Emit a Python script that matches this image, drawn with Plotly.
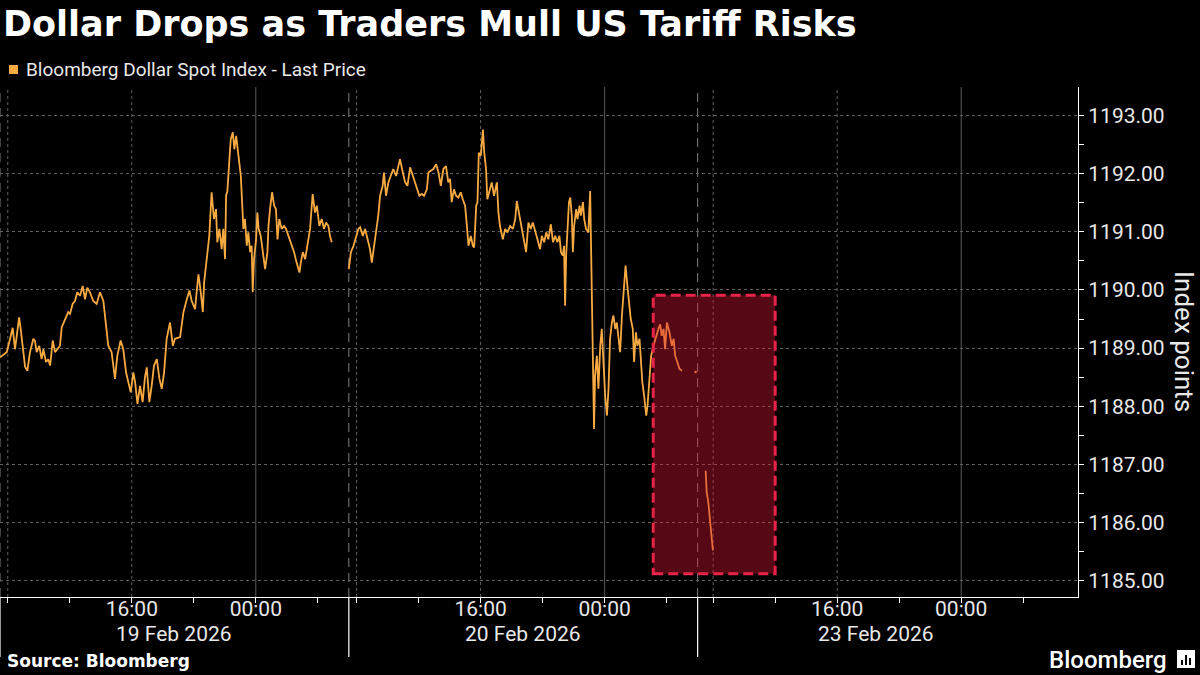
import pandas as pd
import plotly.graph_objects as go

# ---------------- layout constants ----------------
W, H = 1200, 675
ML, MR, MT, MB = 0, 122, 87, 78
PW = W - ML - MR
PH = H - MT - MB


def px(x):
    return (x - ML) / PW


def py(y):
    return (H - MB - y) / PH


# ---------------- text ----------------
TITLE = "Dollar Drops as Traders Mull US Tariff Risks"
SERIES_NAME = "Bloomberg Dollar Spot Index - Last Price"
Y_TITLE = "Index points"
SOURCE = "Source: Bloomberg"
BRAND = "Bloomberg"

# ---------------- data ----------------
# Session 19 Feb 2026 (07:30 -> 06:00 next day)
s1_time = [
    "2026-02-19 07:30", "2026-02-19 07:56", "2026-02-19 08:09", "2026-02-19 08:19", "2026-02-19 08:28",
    "2026-02-19 08:35", "2026-02-19 08:44", "2026-02-19 08:50", "2026-02-19 09:00", "2026-02-19 09:07",
    "2026-02-19 09:16", "2026-02-19 09:26", "2026-02-19 09:39", "2026-02-19 09:45", "2026-02-19 09:52",
    "2026-02-19 10:02", "2026-02-19 10:11", "2026-02-19 10:18", "2026-02-19 10:28", "2026-02-19 10:37",
    "2026-02-19 10:44", "2026-02-19 10:54", "2026-02-19 11:03", "2026-02-19 11:12", "2026-02-19 11:22",
    "2026-02-19 11:29", "2026-02-19 11:42", "2026-02-19 11:54", "2026-02-19 12:01", "2026-02-19 12:11",
    "2026-02-19 12:20", "2026-02-19 12:29", "2026-02-19 12:40", "2026-02-19 12:50", "2026-02-19 12:59",
    "2026-02-19 13:08", "2026-02-19 13:18", "2026-02-19 13:31", "2026-02-19 13:44", "2026-02-19 13:57",
    "2026-02-19 14:10", "2026-02-19 14:20", "2026-02-19 14:29", "2026-02-19 14:42", "2026-02-19 14:55",
    "2026-02-19 15:04", "2026-02-19 15:17", "2026-02-19 15:27", "2026-02-19 15:38", "2026-02-19 15:47",
    "2026-02-19 15:56", "2026-02-19 16:06", "2026-02-19 16:13", "2026-02-19 16:22", "2026-02-19 16:32",
    "2026-02-19 16:42", "2026-02-19 16:51", "2026-02-19 16:58", "2026-02-19 17:08", "2026-02-19 17:17",
    "2026-02-19 17:26", "2026-02-19 17:37", "2026-02-19 17:47", "2026-02-19 17:56", "2026-02-19 18:05",
    "2026-02-19 18:15", "2026-02-19 18:28", "2026-02-19 18:39", "2026-02-19 18:47", "2026-02-19 19:07",
    "2026-02-19 19:20", "2026-02-19 19:33", "2026-02-19 19:43", "2026-02-19 19:52", "2026-02-19 20:05",
    "2026-02-19 20:11", "2026-02-19 20:18", "2026-02-19 20:27", "2026-02-19 20:35", "2026-02-19 20:40",
    "2026-02-19 20:50", "2026-02-19 21:00", "2026-02-19 21:09", "2026-02-19 21:18", "2026-02-19 21:26",
    "2026-02-19 21:31", "2026-02-19 21:39", "2026-02-19 21:48", "2026-02-19 21:54", "2026-02-19 22:01",
    "2026-02-19 22:05", "2026-02-19 22:10", "2026-02-19 22:18", "2026-02-19 22:23", "2026-02-19 22:31",
    "2026-02-19 22:37", "2026-02-19 22:44", "2026-02-19 22:50", "2026-02-19 22:56", "2026-02-19 23:02",
    "2026-02-19 23:06", "2026-02-19 23:12", "2026-02-19 23:18", "2026-02-19 23:25", "2026-02-19 23:31",
    "2026-02-19 23:38", "2026-02-19 23:44", "2026-02-19 23:48", "2026-02-19 23:53", "2026-02-20 00:01",
    "2026-02-20 00:06", "2026-02-20 00:11", "2026-02-20 00:19", "2026-02-20 00:27", "2026-02-20 00:36",
    "2026-02-20 00:45", "2026-02-20 00:49", "2026-02-20 00:55", "2026-02-20 01:03", "2026-02-20 01:11",
    "2026-02-20 01:18", "2026-02-20 01:24", "2026-02-20 01:31", "2026-02-20 01:40", "2026-02-20 01:49",
    "2026-02-20 01:57", "2026-02-20 02:06", "2026-02-20 02:13", "2026-02-20 02:19", "2026-02-20 02:28",
    "2026-02-20 02:38", "2026-02-20 02:49", "2026-02-20 02:54", "2026-02-20 03:02", "2026-02-20 03:11",
    "2026-02-20 03:20", "2026-02-20 03:30", "2026-02-20 03:40", "2026-02-20 03:49", "2026-02-20 03:56",
    "2026-02-20 04:06", "2026-02-20 04:15", "2026-02-20 04:24", "2026-02-20 04:32", "2026-02-20 04:41",
    "2026-02-20 04:47", "2026-02-20 04:54",
]
s1_value = [
    1188.84, 1188.93, 1189.16, 1189.35, 1188.98,
    1189.27, 1189.53, 1189.33, 1188.98, 1188.68,
    1188.61, 1188.93, 1189.16, 1189.13, 1188.93,
    1189.04, 1188.81, 1188.98, 1188.76, 1188.81,
    1188.70, 1189.13, 1188.93, 1188.98, 1189.04,
    1189.36, 1189.50, 1189.62, 1189.59, 1189.76,
    1189.81, 1189.96, 1189.90, 1190.07, 1189.84,
    1190.04, 1189.96, 1189.81, 1189.76, 1189.96,
    1189.81, 1189.39, 1189.04, 1188.93, 1188.47,
    1188.87, 1189.13, 1188.98, 1188.58, 1188.41,
    1188.24, 1188.58, 1188.41, 1188.04, 1188.35,
    1188.07, 1188.50, 1188.67, 1188.07, 1188.35,
    1188.70, 1188.81, 1188.47, 1188.30, 1188.58,
    1189.16, 1189.44, 1189.04, 1189.16, 1189.19,
    1189.62, 1189.84, 1189.99, 1189.81, 1189.67,
    1189.96, 1190.27, 1189.96, 1189.62, 1190.13,
    1190.50, 1190.93, 1191.68, 1191.22, 1191.39,
    1190.82, 1191.05, 1190.70, 1191.05, 1190.53,
    1191.62, 1191.70, 1192.25, 1192.59, 1192.71,
    1192.42, 1192.65, 1192.36, 1192.19, 1191.96,
    1191.45, 1191.05, 1191.22, 1190.76, 1190.99,
    1190.65, 1190.76, 1189.96, 1190.53, 1190.87,
    1191.33, 1191.05, 1190.93, 1190.65, 1190.36,
    1190.65, 1191.10, 1191.39, 1191.68, 1191.45,
    1191.39, 1190.87, 1191.22, 1191.05, 1191.10,
    1191.05, 1190.93, 1190.82, 1190.76, 1190.65,
    1190.47, 1190.30, 1190.47, 1190.65, 1190.53,
    1190.76, 1191.05, 1191.65, 1191.33, 1191.45,
    1191.10, 1191.22, 1191.05, 1191.16, 1191.10,
    1190.93, 1190.82,
]

# Session 20 Feb 2026 (07:30 -> 06:00 next day)
s2_time = [
    "2026-02-20 07:30", "2026-02-20 07:38", "2026-02-20 07:48", "2026-02-20 07:58", "2026-02-20 08:07",
    "2026-02-20 08:14", "2026-02-20 08:24", "2026-02-20 08:33", "2026-02-20 08:42", "2026-02-20 08:52",
    "2026-02-20 08:59", "2026-02-20 09:08", "2026-02-20 09:15", "2026-02-20 09:24", "2026-02-20 09:31",
    "2026-02-20 09:41", "2026-02-20 09:46", "2026-02-20 09:54", "2026-02-20 10:03", "2026-02-20 10:12",
    "2026-02-20 10:22", "2026-02-20 10:33", "2026-02-20 10:42", "2026-02-20 10:48", "2026-02-20 10:59",
    "2026-02-20 11:08", "2026-02-20 11:17", "2026-02-20 11:27", "2026-02-20 11:38", "2026-02-20 11:46",
    "2026-02-20 11:55", "2026-02-20 12:03", "2026-02-20 12:12", "2026-02-20 12:21", "2026-02-20 12:32",
    "2026-02-20 12:38", "2026-02-20 12:47", "2026-02-20 12:57", "2026-02-20 13:08", "2026-02-20 13:17",
    "2026-02-20 13:26", "2026-02-20 13:36", "2026-02-20 13:46", "2026-02-20 13:55", "2026-02-20 14:02",
    "2026-02-20 14:08", "2026-02-20 14:17", "2026-02-20 14:25", "2026-02-20 14:34", "2026-02-20 14:43",
    "2026-02-20 14:51", "2026-02-20 15:00", "2026-02-20 15:07", "2026-02-20 15:13", "2026-02-20 15:22",
    "2026-02-20 15:30", "2026-02-20 15:35", "2026-02-20 15:43", "2026-02-20 15:48", "2026-02-20 15:53",
    "2026-02-20 16:01", "2026-02-20 16:09", "2026-02-20 16:14", "2026-02-20 16:21", "2026-02-20 16:26",
    "2026-02-20 16:34", "2026-02-20 16:43", "2026-02-20 16:52", "2026-02-20 17:03", "2026-02-20 17:09",
    "2026-02-20 17:15", "2026-02-20 17:26", "2026-02-20 17:35", "2026-02-20 17:44", "2026-02-20 17:54",
    "2026-02-20 18:05", "2026-02-20 18:14", "2026-02-20 18:20", "2026-02-20 18:30", "2026-02-20 18:39",
    "2026-02-20 18:46", "2026-02-20 18:56", "2026-02-20 19:05", "2026-02-20 19:14", "2026-02-20 19:22",
    "2026-02-20 19:31", "2026-02-20 19:40", "2026-02-20 19:50", "2026-02-20 19:57", "2026-02-20 20:06",
    "2026-02-20 20:14", "2026-02-20 20:22", "2026-02-20 20:32", "2026-02-20 20:40", "2026-02-20 20:49",
    "2026-02-20 20:57", "2026-02-20 21:05", "2026-02-20 21:11", "2026-02-20 21:18", "2026-02-20 21:23",
    "2026-02-20 21:27", "2026-02-20 21:31", "2026-02-20 21:37", "2026-02-20 21:42", "2026-02-20 21:47",
    "2026-02-20 21:53", "2026-02-20 21:57", "2026-02-20 22:02", "2026-02-20 22:10", "2026-02-20 22:15",
    "2026-02-20 22:23", "2026-02-20 22:28", "2026-02-20 22:36", "2026-02-20 22:41", "2026-02-20 22:48",
    "2026-02-20 22:57", "2026-02-20 23:04", "2026-02-20 23:07", "2026-02-20 23:10", "2026-02-20 23:14",
    "2026-02-20 23:17", "2026-02-20 23:19", "2026-02-20 23:23", "2026-02-20 23:30", "2026-02-20 23:36",
    "2026-02-20 23:43", "2026-02-20 23:49", "2026-02-20 23:56", "2026-02-21 00:02", "2026-02-21 00:09",
    "2026-02-21 00:15", "2026-02-21 00:21", "2026-02-21 00:28", "2026-02-21 00:34", "2026-02-21 00:41",
    "2026-02-21 00:47", "2026-02-21 00:53", "2026-02-21 01:00", "2026-02-21 01:07", "2026-02-21 01:13",
    "2026-02-21 01:21", "2026-02-21 01:28", "2026-02-21 01:36", "2026-02-21 01:41", "2026-02-21 01:49",
    "2026-02-21 01:54", "2026-02-21 02:01", "2026-02-21 02:07", "2026-02-21 02:15", "2026-02-21 02:20",
    "2026-02-21 02:26", "2026-02-21 02:33", "2026-02-21 02:41", "2026-02-21 02:46", "2026-02-21 02:53",
    "2026-02-21 03:00", "2026-02-21 03:09", "2026-02-21 03:19", "2026-02-21 03:28", "2026-02-21 03:35",
    "2026-02-21 03:41", "2026-02-21 03:48", "2026-02-21 03:54", "2026-02-21 04:01", "2026-02-21 04:11",
    "2026-02-21 04:20", "2026-02-21 04:27", "2026-02-21 04:33", "2026-02-21 04:40", "2026-02-21 04:50",
    "2026-02-21 04:59",
]
s2_value = [
    1190.36, 1190.65, 1190.76, 1190.93, 1191.05,
    1191.08, 1190.93, 1191.05, 1190.87, 1190.70,
    1190.47, 1190.76, 1190.96, 1191.28, 1191.62,
    1191.79, 1192.02, 1191.62, 1191.85, 1191.96,
    1192.08, 1191.96, 1192.13, 1192.25, 1192.02,
    1191.85, 1191.79, 1192.11, 1191.96, 1191.85,
    1191.73, 1191.62, 1191.65, 1191.62, 1191.73,
    1192.02, 1192.05, 1192.08, 1192.16, 1192.02,
    1191.79, 1192.08, 1192.13, 1191.85, 1191.91,
    1191.51, 1191.73, 1191.62, 1191.59, 1191.68,
    1191.56, 1191.45, 1191.10, 1190.76, 1190.93,
    1190.76, 1190.73, 1191.45, 1191.51, 1192.36,
    1192.31, 1192.76, 1192.36, 1192.08, 1191.56,
    1191.68, 1191.85, 1191.62, 1191.85, 1191.33,
    1191.10, 1190.87, 1191.05, 1190.99, 1191.10,
    1191.05, 1191.22, 1191.53, 1191.28, 1191.05,
    1190.87, 1190.65, 1191.16, 1191.05, 1191.16,
    1190.99, 1190.87, 1190.70, 1190.93, 1190.82,
    1190.99, 1190.87, 1191.13, 1190.82, 1190.93,
    1190.82, 1190.93, 1190.65, 1190.59, 1190.76,
    1189.73, 1190.59, 1191.16, 1191.51, 1191.59,
    1191.28, 1190.65, 1191.10, 1191.39, 1191.22,
    1191.45, 1191.28, 1191.51, 1191.22, 1191.05,
    1190.99, 1191.70, 1190.87, 1190.02, 1189.16,
    1188.01, 1187.61, 1188.53, 1188.87, 1188.30,
    1189.04, 1189.33, 1188.58, 1188.18, 1187.84,
    1188.30, 1189.16, 1189.44, 1189.56, 1189.33,
    1189.44, 1189.16, 1188.93, 1189.56, 1190.02,
    1190.42, 1190.07, 1189.73, 1189.50, 1189.33,
    1188.76, 1189.27, 1189.04, 1189.16, 1188.87,
    1188.41, 1188.18, 1187.84, 1188.01, 1188.53,
    1188.87, 1189.04, 1189.21, 1189.33, 1189.41,
    1189.21, 1189.33, 1188.98, 1189.44, 1189.27,
    1189.04, 1189.16, 1188.87, 1188.76, 1188.64,
    1188.61,
]

# isolated late print before the weekend close
s2_last_time = ["2026-02-21 05:52"]
s2_last_value = [1188.59]

# Session 23 Feb 2026 (opening minutes)
s3_time = ["2026-02-23 07:31", "2026-02-23 07:35", "2026-02-23 07:41",
           "2026-02-23 07:48", "2026-02-23 07:53", "2026-02-23 07:59"]
s3_value = [1186.89, 1186.52, 1186.36, 1186.01, 1185.72, 1185.52]

# trading sessions: (label, start, end)
sessions = [
    ("19 Feb 2026", "2026-02-19 07:30", "2026-02-20 06:00"),
    ("20 Feb 2026", "2026-02-20 07:30", "2026-02-21 06:00"),
    ("23 Feb 2026", "2026-02-23 07:00", "2026-02-24 06:00"),
]
x_range = ["2026-02-19 07:30", "2026-02-24 07:32"]

tick_times = [
    "2026-02-19 08:00", "2026-02-19 12:00", "2026-02-19 16:00", "2026-02-19 20:00",
    "2026-02-20 00:00", "2026-02-20 04:00",
    "2026-02-20 08:00", "2026-02-20 12:00", "2026-02-20 16:00", "2026-02-20 20:00",
    "2026-02-21 00:00", "2026-02-21 04:00",
    "2026-02-23 08:00", "2026-02-23 12:00", "2026-02-23 16:00", "2026-02-23 20:00",
    "2026-02-24 00:00", "2026-02-24 04:00",
]
labelled_hours = {16: "16:00", 0: "00:00"}

y_range = [1184.72, 1193.49]
y_ticks = [1185, 1186, 1187, 1188, 1189, 1190, 1191, 1192, 1193]

# highlight box (time span and index level span)
box_x = ["2026-02-21 03:08", "2026-02-23 12:00"]
box_y = [1185.12, 1189.91]

# ---------------- styles ----------------
LINE_COLOR = "#F7AA42"
TEXT_COLOR = "#E8E8E8"
GRID_COLOR = "#606060"
AXIS_FONT = "Roboto, 'Noto Sans', sans-serif"
BOLD_FONT = "'DejaVu Sans', sans-serif"

# ---------------- figure ----------------
fig = go.Figure()
for t, v in [(s1_time, s1_value), (s2_time, s2_value), (s3_time, s3_value)]:
    fig.add_trace(go.Scatter(
        x=pd.to_datetime(t), y=v, mode="lines",
        line=dict(color=LINE_COLOR, width=1.8),
        name=SERIES_NAME, showlegend=False, hoverinfo="x+y",
    ))
fig.add_trace(go.Scatter(
    x=pd.to_datetime(s2_last_time), y=s2_last_value, mode="markers",
    marker=dict(color=LINE_COLOR, size=2.5), showlegend=False, name=SERIES_NAME,
))

tick_dt = pd.to_datetime(tick_times)
tick_text = [labelled_hours.get(t.hour, "") for t in tick_dt]

shapes = []
# vertical gridlines
for t in tick_dt:
    if t.hour == 0:
        shapes.append(dict(type="line", xref="x", yref="paper", x0=t, x1=t, y0=0, y1=1,
                           line=dict(color="#5a5a5a", width=1), layer="below"))
    elif t.hour in (8, 16):
        shapes.append(dict(type="line", xref="x", yref="paper", x0=t, x1=t, y0=0, y1=1,
                           line=dict(color=GRID_COLOR, width=1, dash="3px,3px"), layer="below"))
# session separators
annotations = []
for label, start, end in sessions:
    s = pd.Timestamp(start)
    e = pd.Timestamp(end)
    shapes.append(dict(type="line", xref="x", yref="paper", x0=s, x1=s, y0=0, y1=1,
                       line=dict(color="#808080", width=1, dash="9px,6px"), layer="below"))
    shapes.append(dict(type="line", xref="x", yref="paper", x0=s, x1=s, y0=0, y1=py(657),
                       line=dict(color="#FFFFFF", width=1.2), layer="above"))
    annotations.append(dict(text=label, xref="x", yref="paper", x=s + (e - s) / 2, y=py(634),
                            xanchor="center", yanchor="middle", showarrow=False,
                            font=dict(family=AXIS_FONT, size=21, color=TEXT_COLOR)))

# highlight box
shapes.append(dict(type="rect", xref="x", yref="y",
                   x0=pd.Timestamp(box_x[0]), x1=pd.Timestamp(box_x[1]),
                   y0=box_y[0], y1=box_y[1],
                   fillcolor="rgba(215,20,50,0.40)",
                   line=dict(color="#E8234A", width=3, dash="10px,5px"), layer="above"))

# legend swatch
shapes.append(dict(type="rect", xref="paper", yref="paper",
                   x0=px(9), x1=px(18), y0=py(74), y1=py(65),
                   fillcolor=LINE_COLOR, line=dict(width=0)))
annotations.append(dict(text=SERIES_NAME, xref="paper", yref="paper", x=px(24), y=py(70),
                        xanchor="left", yanchor="middle", showarrow=False,
                        font=dict(family=AXIS_FONT, size=19, color=TEXT_COLOR)))

# y-axis title (reads top to bottom)
annotations.append(dict(text=Y_TITLE, xref="paper", yref="paper", x=px(1184), y=py(341),
                        xanchor="center", yanchor="middle", textangle=90, showarrow=False,
                        font=dict(family=AXIS_FONT, size=26, color=TEXT_COLOR)))

# source and brand
annotations.append(dict(text=SOURCE, xref="paper", yref="paper", x=px(5), y=py(661),
                        xanchor="left", yanchor="middle", showarrow=False,
                        font=dict(family=BOLD_FONT, size=17, color="#FFFFFF", weight="bold")))
annotations.append(dict(text=BRAND, xref="paper", yref="paper", x=px(1169), y=py(660),
                        xanchor="right", yanchor="middle", showarrow=False,
                        font=dict(family=AXIS_FONT, size=24, color="#FFFFFF", weight=500)))
# brand icon
shapes.append(dict(type="rect", xref="paper", yref="paper",
                   x0=px(1177), x1=px(1195), y0=py(668), y1=py(650),
                   fillcolor="#FFFFFF", line=dict(width=0)))
for x0, top in [(1181, 660), (1185, 655), (1189, 658)]:
    shapes.append(dict(type="rect", xref="paper", yref="paper",
                       x0=px(x0), x1=px(x0 + 2), y0=py(665), y1=py(top),
                       fillcolor="#000000", line=dict(width=0)))

fig.update_layout(
    width=W, height=H,
    margin=dict(l=ML, r=MR, t=MT, b=MB, pad=0),
    paper_bgcolor="#000000", plot_bgcolor="#000000",
    title=dict(text=TITLE, x=3 / W, xref="container", xanchor="left",
               y=1 - 24 / H, yref="container", yanchor="middle",
               font=dict(family=BOLD_FONT, size=35, color="#FFFFFF", weight="bold")),
    showlegend=False,
    shapes=shapes,
    annotations=annotations,
    xaxis=dict(
        type="date", range=x_range,
        rangebreaks=[
            dict(bounds=[sessions[0][2], sessions[1][1]]),
            dict(bounds=[sessions[1][2], sessions[2][1]]),
        ],
        tickvals=tick_dt, ticktext=tick_text,
        ticks="outside", ticklen=5, tickcolor="#FFFFFF", tickwidth=1,
        ticklabelstandoff=-12,
        showline=True, linecolor="#FFFFFF", linewidth=1.2,
        showgrid=False, zeroline=False, automargin=False,
        tickfont=dict(family=AXIS_FONT, size=21, color=TEXT_COLOR),
    ),
    yaxis=dict(
        side="right", range=y_range,
        tickvals=y_ticks, tickformat=".2f",
        ticks="outside", ticklen=5, tickcolor="#FFFFFF", tickwidth=1,
        minor=dict(dtick=0.5, tick0=1185, ticks="outside", ticklen=5, tickcolor="#FFFFFF", showgrid=False),
        showline=True, linecolor="#FFFFFF", linewidth=1.2,
        showgrid=True, gridcolor=GRID_COLOR, gridwidth=1, griddash="3px,3px",
        zeroline=False, automargin=False,
        tickfont=dict(family=AXIS_FONT, size=21, color=TEXT_COLOR),
    ),
)

fig.write_html(
    "out.html",
    config={"displayModeBar": False},
    post_script="document.body.style.margin='0';document.body.style.overflow='hidden';",
)
